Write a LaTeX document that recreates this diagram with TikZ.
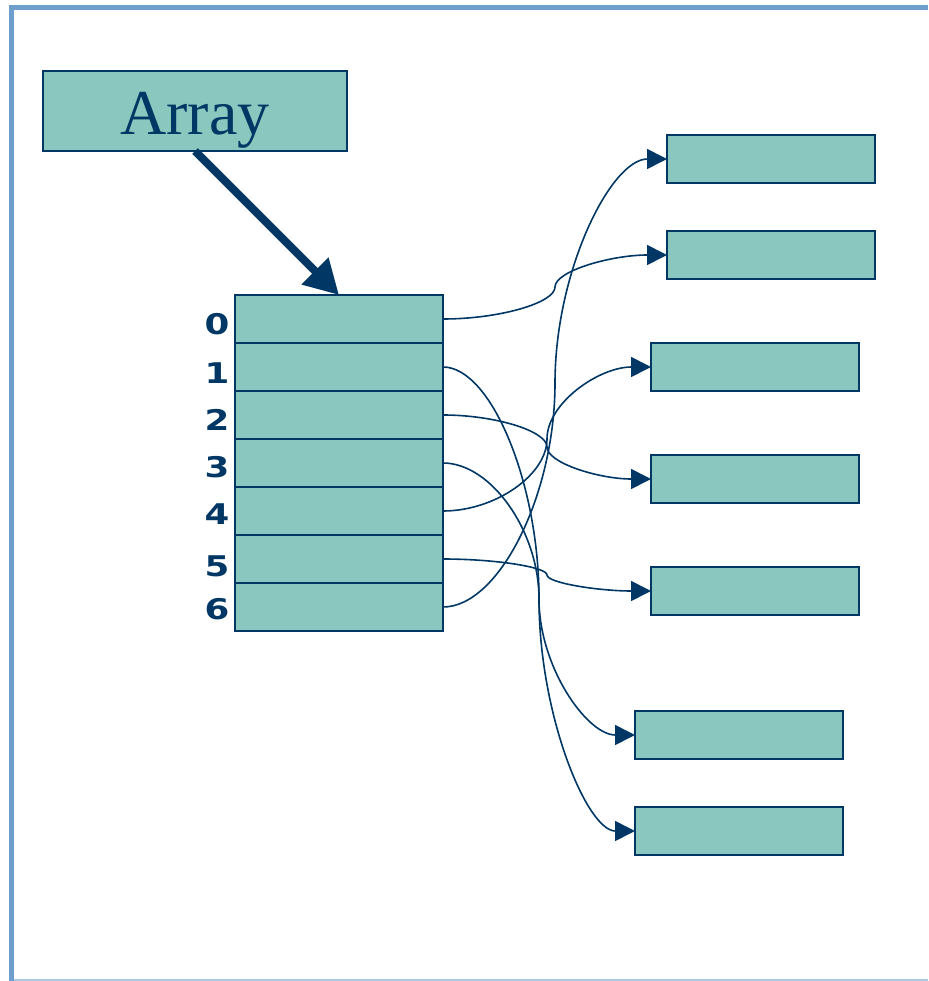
\documentclass[tikz,border=0pt]{standalone}
\usepackage{fontspec}
\setmainfont{Liberation Serif}
\newfontfamily\digitfont{DejaVu Sans}
\usetikzlibrary{arrows.meta,calc}
\definecolor{navy}{HTML}{003764}
\definecolor{teal}{HTML}{8AC7BE}
\definecolor{frameblue}{HTML}{6E9ECB}
\definecolor{framelight}{HTML}{A9C8E6}
\newcommand{\idxtext}[1]{\scalebox{1.25}[1]{#1}}
\tikzset{
  cellbox/.style={draw=navy, fill=teal, line width=2pt, minimum width=208pt, minimum height=48pt, inner sep=0pt, outer sep=0pt},
  titlebox/.style={draw=navy, fill=teal, line width=1.6pt, minimum width=304pt, minimum height=80pt, inner sep=0pt, outer sep=0pt},
  idx/.style={text=navy, font=\digitfont\bfseries\fontsize{28.5}{28.5}\selectfont, inner sep=0pt},
  conn/.style={draw=navy, line width=1.6pt, -{Triangle[length=20pt,width=20pt]}},
  bigarrow/.style={draw=navy, line width=8pt, -{Triangle[length=34pt,width=36pt]}},
  pconn/.style={to path={
    let \p1=(\tikztostart), \p2=(\tikztotarget) in
    .. controls ({(3*\x1+\x2)/4},\y1) and ({(\x1+\x2)/2},{(3*\y1+\y2)/4}) .. ({(\x1+\x2)/2},{(\y1+\y2)/2})
    .. controls ({(\x1+\x2)/2},{(\y1+3*\y2)/4}) and ({(\x1+3*\x2)/4},\y2) .. (\tikztotarget)
  }}
}
\begin{document}
\begin{tikzpicture}[x=1pt,y=-1pt]
\useasboundingbox (0,0) rectangle (928,981);
% frame
\draw[frameblue, line width=5.5pt] (11.5,981) -- (11.5,7.5) -- (928,7.5);
\draw[framelight, line width=1.5pt] (14,980) -- (928,980);
% title box
\node[titlebox] (arr) at (195,111) {};
\node[text=navy, font=\fontsize{64}{64}\selectfont, anchor=base, inner sep=0pt] (arrlbl) at (195,135) {Array};
% array cells
\foreach \i in {0,...,6} {
  \node[cellbox] (r\i) at (339,{319+48*\i}) {};
}
% index labels
\node[idx] (l0) at (217,324) {\idxtext{0}};
\node[idx] (l1) at (217,373) {\idxtext{1}};
\node[idx] (l2) at (217,420) {\idxtext{2}};
\node[idx] (l3) at (217,467.5) {\idxtext{3}};
\node[idx] (l4) at (217,514) {\idxtext{4}};
\node[idx] (l5) at (217,566) {\idxtext{5}};
\node[idx] (l6) at (217,609) {\idxtext{6}};
% target boxes
\node[cellbox] (A) at (771,159) {};
\node[cellbox] (B) at (771,255) {};
\node[cellbox] (C) at (755,367) {};
\node[cellbox] (D) at (755,479) {};
\node[cellbox] (E) at (755,591) {};
\node[cellbox] (F) at (739,735) {};
\node[cellbox] (G) at (739,831) {};
% big arrow
\draw[bigarrow] (arr.south) -- (r0.north);
% connectors
\draw[conn] (r0.east) to[pconn] (B.west);
\draw[conn] (r1.east) to[pconn] (G.west);
\draw[conn] (r2.east) to[pconn] (D.west);
\draw[conn] (r3.east) to[pconn] (F.west);
\draw[conn] (r4.east) to[pconn] (C.west);
\draw[conn] (r5.east) to[pconn] (E.west);
\draw[conn] (r6.east) to[pconn] (A.west);
\end{tikzpicture}
\end{document}
